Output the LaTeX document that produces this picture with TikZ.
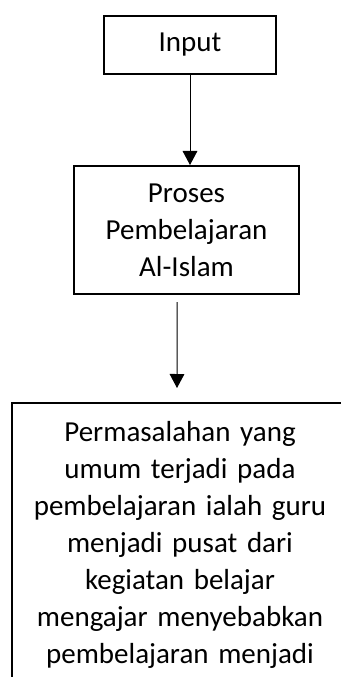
\documentclass[tikz,border=0pt]{standalone}
\usepackage{fontspec}
\setmainfont{Carlito}
\usetikzlibrary{arrows.meta}
\tikzstyle{box} = [draw, line width=1.5pt, align=center, inner sep=0pt]
\tikzstyle{arrow} = [line width=0.75pt, -{Triangle[width=11pt,length=10.5pt]}]

\begin{document}
\begin{tikzpicture}[x=0.75pt, y=-0.75pt, font=\fontsize{21.75pt}{27.75pt}\selectfont]
	\useasboundingbox (0,0) rectangle (341,677);
	\clip (0,0) rectangle (341,677);
	\node (inp) [box, minimum width=129pt, minimum height=43.5pt] at (190,45) {Input};
	\node (proses) [box, minimum width=168.75pt, minimum height=96pt] at (186.5,230) {Proses\\Pembelajaran\\Al-Islam};
	\node (prob) [box, anchor=north, minimum width=252pt, text width=240pt, inner ysep=13.5pt, text depth=220pt] at (180,402) {Permasalahan yang\\umum terjadi pada\\pembelajaran ialah guru\\menjadi pusat dari\\kegiatan belajar\\mengajar menyebabkan\\pembelajaran menjadi};
	\draw[arrow] (inp.south) -- (inp.south |- proses.north);
	\draw[arrow] ([xshift=-7pt,yshift=-5.25pt]proses.south) -- ([xshift=-2.25pt,yshift=10.5pt]prob.north);
\end{tikzpicture}
\end{document}
